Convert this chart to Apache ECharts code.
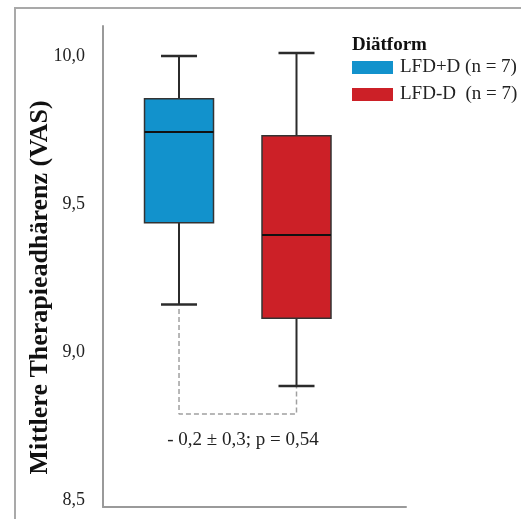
<!DOCTYPE html>
<html>
<head>
<meta charset="utf-8">
<script src="https://cdn.jsdelivr.net/npm/echarts@6/dist/echarts.min.js"></script>
<style>
  html, body { margin: 0; padding: 0; background: #fff; }
  #chart { width: 521px; height: 519px; }
</style>
</head>
<body>
<div id="chart"></div>
<script>
// Diet groups and their box summaries (VAS adherence score)
const groupNames = ['LFD+D (n = 7)', 'LFD-D  (n = 7)'];
const groupPos = [1, 2];
const groupColors = ['#1292cc', '#cc2027'];
const lowWhisker = [9.16, 8.885];
const q1 = [9.436, 9.114];
const median = [9.743, 9.395];
const q3 = [9.855, 9.73];
const highWhisker = [10.0, 10.01];

// y tick labels and group comparison annotation
const yTicks = [8.5, 9.0, 9.5, 10.0];
const bracketLevel = 8.79;
const comparisonText = '- 0,2 ± 0,3; p = 0,54';

const serif = '"Liberation Serif", "Times New Roman", serif';

function boxRenderer(color) {
  return function (params, api) {
    const x = api.value(0);
    const pLow = api.coord([x, api.value(1)]);
    const pQ1 = api.coord([x, api.value(2)]);
    const pMed = api.coord([x, api.value(3)]);
    const pQ3 = api.coord([x, api.value(4)]);
    const pHigh = api.coord([x, api.value(5)]);
    const cx = pQ1[0];
    const half = 34.5;
    const cap = 18;
    const lineStyle = { stroke: '#2b2b2b', lineWidth: 2 };
    return {
      type: 'group',
      children: [
        { type: 'line', shape: { x1: cx, y1: pHigh[1], x2: cx, y2: pQ3[1] }, style: lineStyle },
        { type: 'line', shape: { x1: cx, y1: pQ1[1], x2: cx, y2: pLow[1] }, style: lineStyle },
        { type: 'line', shape: { x1: cx - cap, y1: pHigh[1], x2: cx + cap, y2: pHigh[1] }, style: { stroke: '#2b2b2b', lineWidth: 2.5 } },
        { type: 'line', shape: { x1: cx - cap, y1: pLow[1], x2: cx + cap, y2: pLow[1] }, style: { stroke: '#2b2b2b', lineWidth: 2.5 } },
        { type: 'rect', shape: { x: cx - half, y: pQ3[1], width: half * 2, height: pQ1[1] - pQ3[1] },
          style: { fill: color, stroke: '#333', lineWidth: 1.5 } },
        { type: 'line', shape: { x1: cx - half, y1: pMed[1], x2: cx + half, y2: pMed[1] }, style: { stroke: '#111', lineWidth: 2 } }
      ]
    };
  };
}

const series = groupNames.map((name, i) => ({
  name: name,
  type: 'custom',
  itemStyle: { color: groupColors[i] },
  renderItem: boxRenderer(groupColors[i]),
  encode: { x: 0, y: [1, 2, 3, 4, 5] },
  data: [[groupPos[i], lowWhisker[i], q1[i], median[i], q3[i], highWhisker[i]]],
  z: 3
}));

// dashed bracket linking the lower whiskers
series.push({
  name: 'bracket',
  type: 'line',
  data: [
    [groupPos[0], lowWhisker[0] - 0.015],
    [groupPos[0], bracketLevel],
    [groupPos[1], bracketLevel],
    [groupPos[1], lowWhisker[1]]
  ],
  symbol: 'none',
  lineStyle: { color: '#a0a0a0', width: 1.5, type: [5, 3] },
  label: { show: false },
  silent: true,
  z: 2
});

const chart = echarts.init(document.getElementById('chart'));
chart.setOption({
  animation: false,
  backgroundColor: '#fff',
  grid: { left: 103, top: 26, right: 115, bottom: 12 },
  xAxis: {
    type: 'value',
    min: 0.353,
    max: 2.932,
    axisLine: { show: true, lineStyle: { color: '#9a9a9a', width: 2 } },
    axisTick: { show: false },
    axisLabel: { show: false },
    splitLine: { show: false }
  },
  yAxis: {
    type: 'value',
    min: 8.476,
    max: 10.101,
    name: 'Mittlere Therapieadhärenz (VAS)',
    nameLocation: 'middle',
    nameGap: 50,
    nameMoveOverlap: false,
    nameTextStyle: {
      fontFamily: serif, fontWeight: 'bold', fontSize: 26, color: '#111',
      padding: [0, 42, 0, 0]
    },
    axisLine: { show: true, lineStyle: { color: '#9a9a9a', width: 2 } },
    axisTick: { show: false },
    splitLine: { show: false },
    axisLabel: {
      customValues: yTicks,
      margin: 18,
      fontFamily: serif,
      fontSize: 18,
      color: '#222',
      formatter: v => v.toFixed(1).replace('.', ',')
    }
  },
  title: {
    text: 'Diätform',
    left: 352,
    top: 36,
    padding: 0,
    textStyle: { fontFamily: serif, fontWeight: 'bold', fontSize: 19, color: '#111' }
  },
  legend: {
    data: groupNames,
    orient: 'vertical',
    left: 352,
    top: 58,
    padding: 0,
    icon: 'rect',
    itemWidth: 41,
    itemHeight: 13,
    itemGap: 8,
    itemStyle: { borderWidth: 0 },
    textStyle: { fontFamily: serif, fontSize: 19, color: '#222', padding: [0, 0, 0, 2] },
    selectedMode: false
  },
  graphic: [
    {
      type: 'rect',
      shape: { x: 15, y: 8, width: 700, height: 700 },
      style: { fill: 'none', stroke: '#a9a9a9', lineWidth: 2 },
      silent: true
    },
    {
      type: 'text',
      x: 243,
      y: 440,
      style: {
        text: comparisonText,
        fontFamily: serif,
        fontSize: 19,
        fill: '#222',
        align: 'center',
        verticalAlign: 'middle'
      }
    }
  ],
  series: series
});
</script>
</body>
</html>
